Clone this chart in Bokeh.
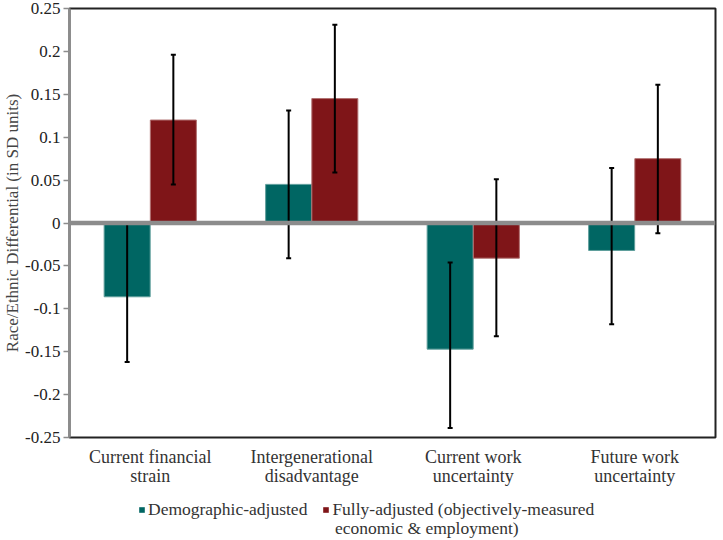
from bokeh.plotting import figure
from bokeh.layouts import column
from bokeh.models import (ColumnDataSource, FactorRange, Span, Whisker, TeeHead,
                          FixedTicker, Legend, LegendItem)
from bokeh.transform import dodge
from bokeh.embed import file_html
from bokeh.resources import INLINE

categories = ["Current financial\nstrain", "Intergenerational\ndisadvantage",
              "Current work\nuncertainty", "Future work\nuncertainty"]
demo_vals = [-0.086, 0.045, -0.147, -0.032]
demo_low = [-0.162, -0.041, -0.239, -0.118]
demo_high = [0.001, 0.131, -0.046, 0.064]
full_vals = [0.120, 0.145, -0.041, 0.075]
full_low = [0.045, 0.059, -0.132, -0.012]
full_high = [0.196, 0.231, 0.051, 0.161]
y_ticks = [0.25, 0.2, 0.15, 0.1, 0.05, 0, -0.05, -0.1, -0.15, -0.2, -0.25]
y_tick_labels = ["0.25", "0.2", "0.15", "0.1", "0.05", "0", "-0.05", "-0.1",
                 "-0.15", "-0.2", "-0.25"]
series_names = ["Demographic-adjusted",
                "Fully-adjusted (objectively-measured\neconomic & employment)"]

TEAL = "#006663"
RED = "#7f1518"
FONT = "Liberation Serif"

src = ColumnDataSource(dict(cat=categories, demo=demo_vals, dlo=demo_low, dhi=demo_high,
                            full=full_vals, flo=full_low, fhi=full_high))

p = figure(x_range=FactorRange(*categories, range_padding=0), y_range=(-0.25, 0.25),
           width=717, height=490, output_backend="svg", toolbar_location=None,
           min_border_left=63, min_border_right=2, min_border_top=8, min_border_bottom=53)

BW = 0.285
OFF = 0.143
r1 = p.vbar(x=dodge("cat", -OFF, range=p.x_range), top="demo", bottom=0, width=BW, source=src,
            fill_color=TEAL, line_color="#5f9e9b", line_width=1)
r2 = p.vbar(x=dodge("cat", OFF, range=p.x_range), top="full", bottom=0, width=BW, source=src,
            fill_color=RED, line_color="#b07070", line_width=1)

for base, lo, hi in [(dodge("cat", -OFF, range=p.x_range), "dlo", "dhi"),
                     (dodge("cat", OFF, range=p.x_range), "flo", "fhi")]:
    w = Whisker(source=src, base=base, lower=lo, upper=hi, line_color="black", line_width=2,
                level="annotation",
                upper_head=TeeHead(size=5, line_color="black", line_width=2),
                lower_head=TeeHead(size=5, line_color="black", line_width=2))
    p.add_layout(w)

p.add_layout(Span(location=0, dimension="width", line_color="#8c8c8c", line_width=4.5,
                  level="annotation"))

p.grid.visible = False
p.outline_line_color = "#222222"
p.outline_line_width = 2

ya = p.yaxis[0]
ya.ticker = FixedTicker(ticks=y_ticks)
ya.major_label_overrides = {t: l for t, l in zip(y_ticks, y_tick_labels)}
ya.axis_line_color = "#8c8c8c"
ya.axis_line_width = 2.5
ya.major_tick_line_color = "#8c8c8c"
ya.major_tick_line_width = 1.5
ya.major_tick_in = 0
ya.major_tick_out = 6
ya.minor_tick_line_color = None
ya.major_label_standoff = 3
ya.major_label_text_font = FONT
ya.major_label_text_font_size = "17px"
ya.major_label_text_color = "#222222"
ya.axis_label = "Race/Ethnic Differential (in SD units)"
ya.axis_label_text_font = FONT
ya.axis_label_text_font_size = "17px"
ya.axis_label_text_font_style = "normal"
ya.axis_label_text_color = "#444444"
ya.axis_label_standoff = 0

xa = p.xaxis[0]
xa.axis_line_color = None
xa.major_tick_line_color = None
xa.major_tick_in = 0
xa.major_tick_out = 0
xa.minor_tick_line_color = None
xa.major_label_standoff = 9
xa.major_label_text_font = FONT
xa.major_label_text_font_size = "18px"
xa.major_label_text_line_height = 0.95
xa.major_label_text_color = "#333333"

# legend strip below the chart (its bars sit outside its visible range)
legend_lines = series_names[1].split("\n")
p2 = figure(x_range=FactorRange(*categories), y_range=(1, 2), width=717, height=50,
            output_backend="svg", toolbar_location=None, x_axis_location=None,
            y_axis_location=None, min_border=0)
p2.outline_line_color = None
p2.grid.visible = False
l1 = p2.vbar(x="cat", top="demo", bottom=0, width=BW, source=src, fill_color=TEAL, line_color=None)
l2 = p2.vbar(x="cat", top="full", bottom=0, width=BW, source=src, fill_color=RED, line_color=None)
l3 = p2.vbar(x="cat", top="full", bottom=0, width=BW, source=src, fill_alpha=0, line_alpha=0)
common = dict(orientation="horizontal", label_text_font=FONT, label_text_font_size="17.5px",
              label_text_color="#333333", glyph_width=7, glyph_height=7, label_standoff=3,
              spacing=15, border_line_color=None, background_fill_alpha=0, margin=0, padding=2)
legend = Legend(items=[LegendItem(label=series_names[0], renderers=[l1]),
                       LegendItem(label=legend_lines[0], renderers=[l2])],
                location=(69, 20), **common)
legend_cont = Legend(items=[LegendItem(label=legend_lines[1], renderers=[l3])],
                     location=(256, 1), **common)
p2.add_layout(legend, "center")
p2.add_layout(legend_cont, "center")

layout = column(p, p2, spacing=0)
open("out.html", "w").write(file_html(layout, INLINE))
